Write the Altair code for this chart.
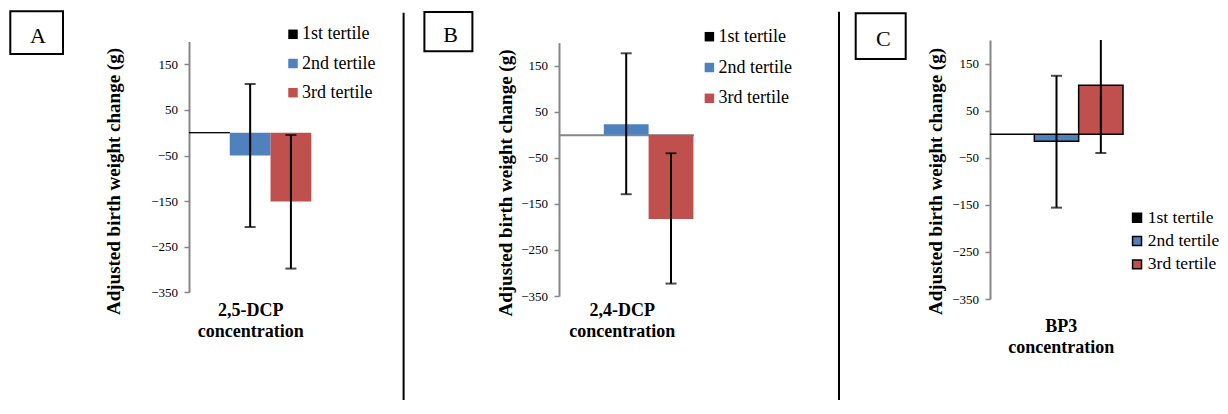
import altair as alt
import pandas as pd

# ---------------- data ----------------
TERTILES = ["1st tertile", "2nd tertile", "3rd tertile"]
COLORS = ["#000000", "#4F81BD", "#C0504D"]
Y_TICKS = [150, 50, -50, -150, -250, -350]
Y_DOMAIN = [-350, 200]
Y_TITLE = "Adjusted birth weight change (g)"

A_EST = [0, -50, -151]
A_LO = [None, -207, -298]
A_HI = [None, 107, -5]

B_EST = [0, 23, -183]
B_LO = [None, -129, -323]
B_HI = [None, 177, -40]

C_EST = [0, -15, 104]
C_LO = [None, -156, -40]
C_HI = [None, 124, 248]

PANEL_LETTERS = ["A", "B", "C"]
X_TITLES = [["2,5-DCP", "concentration"],
            ["2,4-DCP", "concentration"],
            ["BP3", "concentration"]]

FONT = "Liberation Serif"
GRAY = "#868686"
H = 262  # common plot-area height


def panel(est, lo, hi, letter, xtitle, p):
    df = pd.DataFrame({"tertile": TERTILES, "est": est, "lo": lo, "hi": hi})
    one = pd.DataFrame({"k": [0]})

    xscale = alt.Scale(domain=TERTILES, range=[0, p["bw"]], paddingInner=0, paddingOuter=0)
    yscale = alt.Scale(domain=Y_DOMAIN, range=[p["ybot"], p["ytop"]], nice=False, zero=False)

    xaxis_kw = dict(
        title=xtitle, ticks=False, labels=False, grid=False,
        titleFont=FONT, titleFontSize=18, titleFontWeight="bold", titleColor="black",
        titleAlign="center", titleBaseline="alphabetic", titleLineHeight=21,
        titleX=p["xtx"], titleY=p["xty"],
    )
    if p.get("zero_offset") is not None:
        xaxis_kw.update(domain=True, domainColor=GRAY, domainWidth=2, offset=p["zero_offset"])
    else:
        xaxis_kw.update(domain=False)
    xaxis = alt.Axis(**xaxis_kw)
    yaxis = alt.Axis(
        values=Y_TICKS, title=Y_TITLE, grid=False,
        domainColor=GRAY, domainWidth=2,
        tickColor=GRAY, tickWidth=1.5, tickSize=5,
        labelFont=FONT, labelFontSize=13, labelColor="black", labelPadding=6.5,
        titleFont=FONT, titleFontSize=19, titleFontWeight="bold", titleColor="black",
        titleAngle=270, titleAlign="center", titleBaseline="middle",
        titleX=p["ytx"], titleY=p["yty"],
    )

    x = alt.X("tertile:N", sort=TERTILES, scale=xscale, axis=xaxis)

    legend = alt.Legend(
        orient="none", legendX=p["lx"], legendY=p["ly"], title=None,
        symbolType="square", symbolSize=p["ssize"], symbolOpacity=1,
        symbolStrokeColor="black", symbolStrokeWidth=p["sstroke"],
        labelFont=FONT, labelFontSize=p["lfs"], labelColor="black", labelOffset=p["loff"],
        rowPadding=p["rowpad"], padding=0, labelLimit=0,
    )

    if p["outline"]:
        stroke = alt.value("black")
        sw = 1.5
    else:
        stroke = alt.condition(alt.datum.tertile == TERTILES[0], alt.value(p["first_line"]),
                               alt.value("transparent"))
        sw = 1

    bars = alt.Chart(df).mark_bar(strokeWidth=sw).encode(
        x=x, y=alt.Y("est:Q", scale=yscale, axis=yaxis), y2=alt.datum(0),
        color=alt.Color("tertile:N", scale=alt.Scale(domain=TERTILES, range=COLORS), legend=legend),
        stroke=stroke,
    )

    eb = alt.Chart(df).transform_filter("isValid(datum.lo)")
    err = eb.mark_rule(color="black", strokeWidth=2, clip=True).encode(
        x=x, y=alt.Y("lo:Q", scale=yscale, axis=yaxis), y2="hi:Q")
    cap_lo = eb.mark_tick(color="black", orient="horizontal", size=11, thickness=2, clip=True).encode(
        x=x, y=alt.Y("lo:Q", scale=yscale, axis=yaxis))
    cap_hi = eb.mark_tick(color="black", orient="horizontal", size=11, thickness=2, clip=True).encode(
        x=x, y=alt.Y("hi:Q", scale=yscale, axis=yaxis))

    box = alt.Chart(one).mark_rect(fill="white", stroke="black", strokeWidth=2).encode(
        x=alt.value(p["box"][0]), x2=alt.value(p["box"][1]),
        y=alt.value(p["box"][2]), y2=alt.value(p["box"][3]))
    lab = alt.Chart(one).mark_text(font=FONT, fontSize=22, align="center", baseline="alphabetic",
                                   color="black").encode(
        x=alt.value(p["let"][0]), y=alt.value(p["let"][1]), text=alt.value(letter))

    layers = [bars, err, cap_lo, cap_hi, box, lab]
    if p.get("sep") is not None:
        sep = alt.Chart(one).mark_rule(color="black", strokeWidth=2).encode(
            x=alt.value(p["sep"][0]), y=alt.value(p["sep"][1]), y2=alt.value(p["sep"][2]))
        layers.append(sep)

    return alt.layer(*layers).properties(width=p["w"], height=H)


ZB = 94.8  # pixel row of the zero line in panel B
PA = dict(w=369.6, bw=122.3, ybot=252.3, ytop=1.5,
          xtx=61.3, xty=13, ytx=-75.7, yty=141,
          lx=95.0, ly=-14.7, ssize=90, sstroke=0, lfs=18, loff=0, rowpad=11.2,
          outline=False, first_line="black",
          box=(-178.7, -126, -28.7, 14), let=(-151, 2.7), sep=(214.6, -27.3, 360))
PB = dict(w=431, bw=134.4, ybot=256, ytop=2.7,
          xtx=62.7, xty=275 - ZB, ytx=-53.3, yty=142.5, zero_offset=-(H - ZB),
          lx=141.4, ly=-12.3, ssize=90, sstroke=0, lfs=18, loff=0, rowpad=12.8,
          outline=False, first_line="transparent",
          box=(-134.6, -86.6, -28, 11.3), let=(-108.3, 2.3))
PC = dict(w=150, bw=133, ybot=259, ytop=0,
          xtx=70.7, xty=29.7, ytx=-54.3, yty=141,
          lx=138.3, ly=169.0, ssize=80, sstroke=1.5, lfs=17.5, loff=2, rowpad=4.3, outline=True,
          box=(-134.3, -84.3, -26.7, 19), let=(-106.6, 5.7), sep=(-151, -28.3, 360))

ca = panel(A_EST, A_LO, A_HI, PANEL_LETTERS[0], X_TITLES[0], PA)
cb = panel(B_EST, B_LO, B_HI, PANEL_LETTERS[1], X_TITLES[1], PB)
cc = panel(C_EST, C_LO, C_HI, PANEL_LETTERS[2], X_TITLES[2], PC)

chart = alt.hconcat(ca, cb, cc, spacing=0, bounds="flush").resolve_scale(
    color="independent", x="independent", y="independent"
).properties(
    padding={"left": 1, "top": 2, "right": 0, "bottom": 0},
    background="white",
).configure_view(stroke=None)

chart.save("out.html", embed_options={"renderer": "svg", "actions": False})
